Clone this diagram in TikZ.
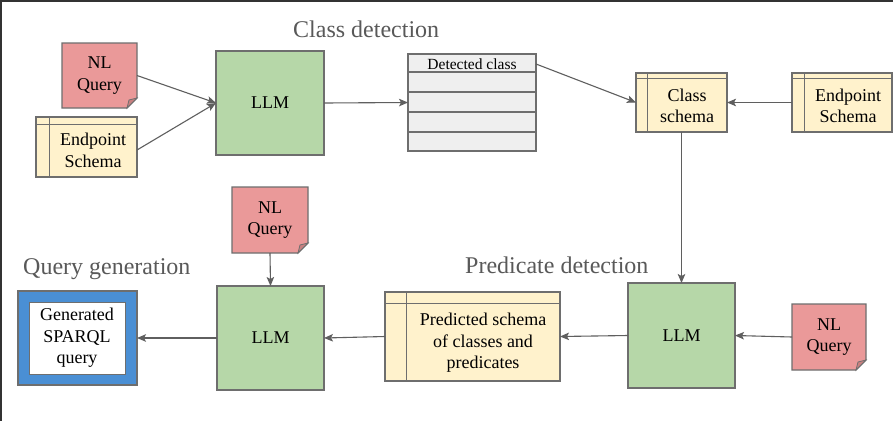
\documentclass[tikz,border=0pt]{standalone}
\usepackage{fontspec}
\setmainfont{Liberation Serif}
\usetikzlibrary{arrows.meta,calc,backgrounds}
\definecolor{pinkf}{HTML}{EA9999}
\definecolor{foldf}{HTML}{C98080}
\definecolor{yellowf}{HTML}{FFF2CC}
\definecolor{greenf}{HTML}{B6D7A8}
\definecolor{grayf}{HTML}{EFEFEF}
\definecolor{bluef}{HTML}{4A8FD4}
\definecolor{bordc}{HTML}{6E6E6E}
\definecolor{arrc}{HTML}{5F5F5F}
\definecolor{titlec}{HTML}{595959}
\definecolor{framec}{HTML}{333333}
\tikzset{
  txt/.style={inner sep=0pt, outer sep=0pt, align=center, font=\fontsize{18}{21.5}\selectfont, text=black},
  box/.style={txt, draw=bordc, line width=1.1pt},
  llm/.style={box, fill=greenf},
  schemabox/.style={box, fill=yellowf},
  notearea/.style={txt},
  notepath/.style={fill=pinkf, draw=bordc, line width=1.1pt},
  foldpath/.style={fill=foldf, draw=bordc, line width=0.8pt},
  conn/.style={draw=arrc, line width=1.1pt, -{Stealth[length=9pt,width=7.5pt,inset=2pt]}},
  ttl/.style={anchor=base west, inner sep=0pt, font=\fontsize{24}{28}\selectfont, text=titlec},
  inner/.style={draw=bordc, line width=0.8pt}
}
\begin{document}
\begin{tikzpicture}[x=1pt,y=-1pt]
\useasboundingbox (0,0) rectangle (893,421);
\draw[framec, line width=1.6pt] (0,1) -- (893,1);
\draw[framec, line width=1.6pt] (1,0) -- (1,421);

% titles
\node[ttl] (t1) at (293,37.5) {Class detection};
\node[ttl] (t2) at (23,274) {Query generation};
\node[ttl] (t3) at (465,273) {Predicate detection};

% NL query notes
\node[notearea, minimum width=75pt, minimum height=65pt] (nq1) at (99.5,75.5) {NL\\Query};
\node[notearea, minimum width=76pt, minimum height=66pt] (nq2) at (270,220) {NL\\Query};
\node[notearea, minimum width=74pt, minimum height=66pt] (nq3) at (829,337) {NL\\Query};
\begin{scope}[on background layer]
\fill[white] (0,0) rectangle (893,421);
\foreach \n in {nq1,nq2,nq3}{
  \draw[notepath] (\n.north west) -- (\n.north east) -- ($(\n.south east)+(0,10pt)$)
     -- ($(\n.south east)+(-10pt,0)$) -- (\n.south west) -- cycle;
  \draw[foldpath] ($(\n.south east)+(0,10pt)$) -- ($(\n.south east)+(-10pt,0)$)
     -- ($(\n.south east)+(-8pt,8pt)$) -- cycle;
}
\end{scope}

% Endpoint schema 1
\node[schemabox, minimum width=101pt, minimum height=60pt] (es1) at (86.5,147) {};
\draw[inner] ($(es1.north west)+(13pt,0)$) -- ($(es1.south west)+(13pt,0)$);
\draw[inner] ($(es1.north west)+(0,-7pt)$) -- ($(es1.north east)+(0,-7pt)$);
\node[txt] (es1t) at (93,150.5) {Endpoint\\Schema};

% LLM 1
\node[llm, minimum width=108pt, minimum height=104pt] (llm1) at (270,103) {LLM};

% Detected class table
\node[box, fill=grayf, minimum width=128pt, minimum height=97pt] (det) at (472,102.5) {};
\foreach \o in {18,38,58,78}{
  \draw[draw=bordc, line width=1.1pt] ($(det.north west)+(0,-\o pt)$) -- ($(det.north east)+(0,-\o pt)$);
}
\node[txt, font=\fontsize{15.5}{18}\selectfont] (dett) at (472,64) {Detected class};
\coordinate (dethead) at ($(det.north east)+(0,-10pt)$);

% Class schema
\node[schemabox, minimum width=91pt, minimum height=59pt] (cs) at (681.5,102.5) {};
\draw[inner] ($(cs.north west)+(11pt,0)$) -- ($(cs.south west)+(11pt,0)$);
\draw[inner] ($(cs.north west)+(0,-5pt)$) -- ($(cs.north east)+(0,-5pt)$);
\node[txt] (cst) at (687,106) {Class\\schema};

% Endpoint schema 2
\node[schemabox, minimum width=100pt, minimum height=59pt] (es2) at (842,102.5) {};
\draw[inner] ($(es2.north west)+(12pt,0)$) -- ($(es2.south west)+(12pt,0)$);
\draw[inner] ($(es2.north west)+(0,-5pt)$) -- ($(es2.north east)+(0,-5pt)$);
\node[txt] (es2t) at (848,106) {Endpoint\\Schema};

% LLM 2
\node[llm, minimum width=107pt, minimum height=105pt] (llm2) at (681.5,335.5) {LLM};

% Predicted schema
\node[schemabox, minimum width=175pt, minimum height=89pt] (pred) at (472.5,336.5) {};
\draw[inner] ($(pred.north west)+(21pt,0)$) -- ($(pred.south west)+(21pt,0)$);
\draw[inner] ($(pred.north west)+(0,-11pt)$) -- ($(pred.north east)+(0,-11pt)$);
\node[txt] (predt) at (483,343) {Predicted schema\\of classes and\\predicates};

% LLM 3
\node[llm, minimum width=107pt, minimum height=104pt] (llm3) at (270.5,338) {LLM};

% Generated SPARQL query
\node[box, fill=bluef, minimum width=119pt, minimum height=94pt] (gen) at (77.5,338) {};
\node[txt, fill=white, draw=bordc, line width=0.8pt, minimum width=96pt, minimum height=72pt] (genin) at (77,338) {Generated\\SPARQL\\query};

% connectors
\draw[conn] (nq1.east) -- (llm1.west);
\draw[conn] ($(es1.east)+(0,-3pt)$) -- (llm1.west);
\draw[conn] (llm1.east) -- (det.west);
\draw[conn] (dethead) -- (cs.west);
\draw[conn] (es2.west) -- (cs.east);
\draw[conn] (cs.south) -- (llm2.north);
\draw[conn] (nq3.west) -- (llm2.east);
\draw[conn] (llm2.west) -- (pred.east);
\draw[conn] (pred.west) -- (llm3.east);
\draw[conn] (nq2.south) -- (llm3.north);
\draw[conn] (llm3.west) -- (gen.east);
\end{tikzpicture}
\end{document}
